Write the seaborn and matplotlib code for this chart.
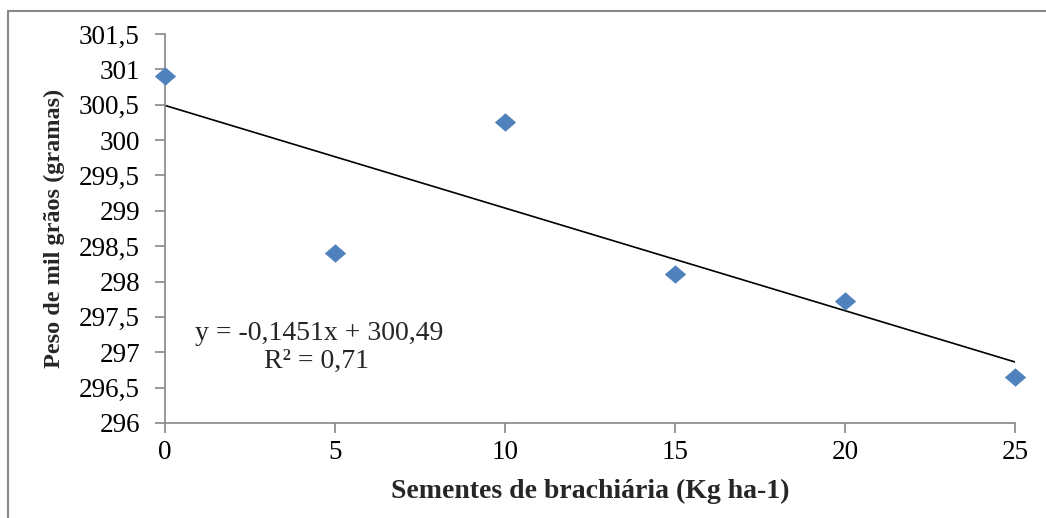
import numpy as np
import pandas as pd
import matplotlib
matplotlib.use("Agg")
import matplotlib.pyplot as plt
import seaborn as sns
from matplotlib.ticker import FuncFormatter
from matplotlib.lines import Line2D

# data
sementes = [0, 5, 10, 15, 20, 25]
peso = [300.9, 298.4, 300.25, 298.1, 297.72, 296.65]
slope = -0.1451
intercept = 300.49
x_ticks = [0, 5, 10, 15, 20, 25]
y_ticks = [296, 296.5, 297, 297.5, 298, 298.5, 299, 299.5, 300, 300.5, 301, 301.5]

df = pd.DataFrame({"x": sementes, "y": peso})
trend = pd.DataFrame({"x": [0, 25]})
trend["y"] = intercept + slope * trend["x"]

sns.set_theme(style="white")
plt.rcParams["font.family"] = ["Liberation Serif", "DejaVu Serif"]

fig = plt.figure(figsize=(10.46, 5.18), dpi=100)
ax = fig.add_axes([0.1577, 0.1834, 0.8127, 0.751])

# diamond a bit wider than tall, like the Excel marker
diamond = [(-1.15, 0), (0, 1), (1.15, 0), (0, -1), (-1.15, 0)]
sns.scatterplot(data=df, x="x", y="y", ax=ax, marker=diamond, s=210,
                color="#4F81BD", edgecolor="#4F81BD", linewidth=0.5, zorder=3,
                clip_on=False)
sns.lineplot(data=trend, x="x", y="y", ax=ax, color="black", linewidth=1.2, zorder=2)

ax.set_xlim(0, 25)
ax.set_ylim(296, 301.5)
ax.set_xticks(x_ticks)
ax.set_yticks(y_ticks)
fmt = FuncFormatter(lambda v, p: (f"{v:g}").replace(".", ","))
ax.xaxis.set_major_formatter(fmt)
ax.yaxis.set_major_formatter(fmt)

for s in ["top", "right"]:
    ax.spines[s].set_visible(False)
for s in ["left", "bottom"]:
    ax.spines[s].set_color("#888888")
    ax.spines[s].set_linewidth(1.2)
ax.tick_params(axis="both", direction="out", length=7, width=1.2, color="#888888",
               labelsize=19.5, labelcolor="black", left=True, bottom=True)
ax.tick_params(axis="y", pad=11)
ax.tick_params(axis="x", pad=5)
ax.margins(0)

ax.set_xlabel("Sementes de brachiária (Kg ha-1)", fontsize=20, fontweight="bold", labelpad=10)
ax.set_ylabel("Peso de mil grãos (gramas)", fontsize=17.5, fontweight="bold", labelpad=10)

fig.text(319 / 1046, 1 - 333 / 518, "y = -0,1451x + 300,49", fontsize=20,
         ha="center", va="center")
fig.text(317 / 1046, 1 - 361 / 518, "R² = 0,71", fontsize=20,
         ha="center", va="center")

# outer chart border (left and top edges visible)
fig.add_artist(Line2D([8 / 1046, 8 / 1046], [0, 1 - 11 / 518], transform=fig.transFigure,
                      color="#888888", linewidth=1.5))
fig.add_artist(Line2D([8 / 1046, 1], [1 - 11 / 518, 1 - 11 / 518], transform=fig.transFigure,
                      color="#888888", linewidth=1.5))

fig.savefig("out.png", dpi=100)
